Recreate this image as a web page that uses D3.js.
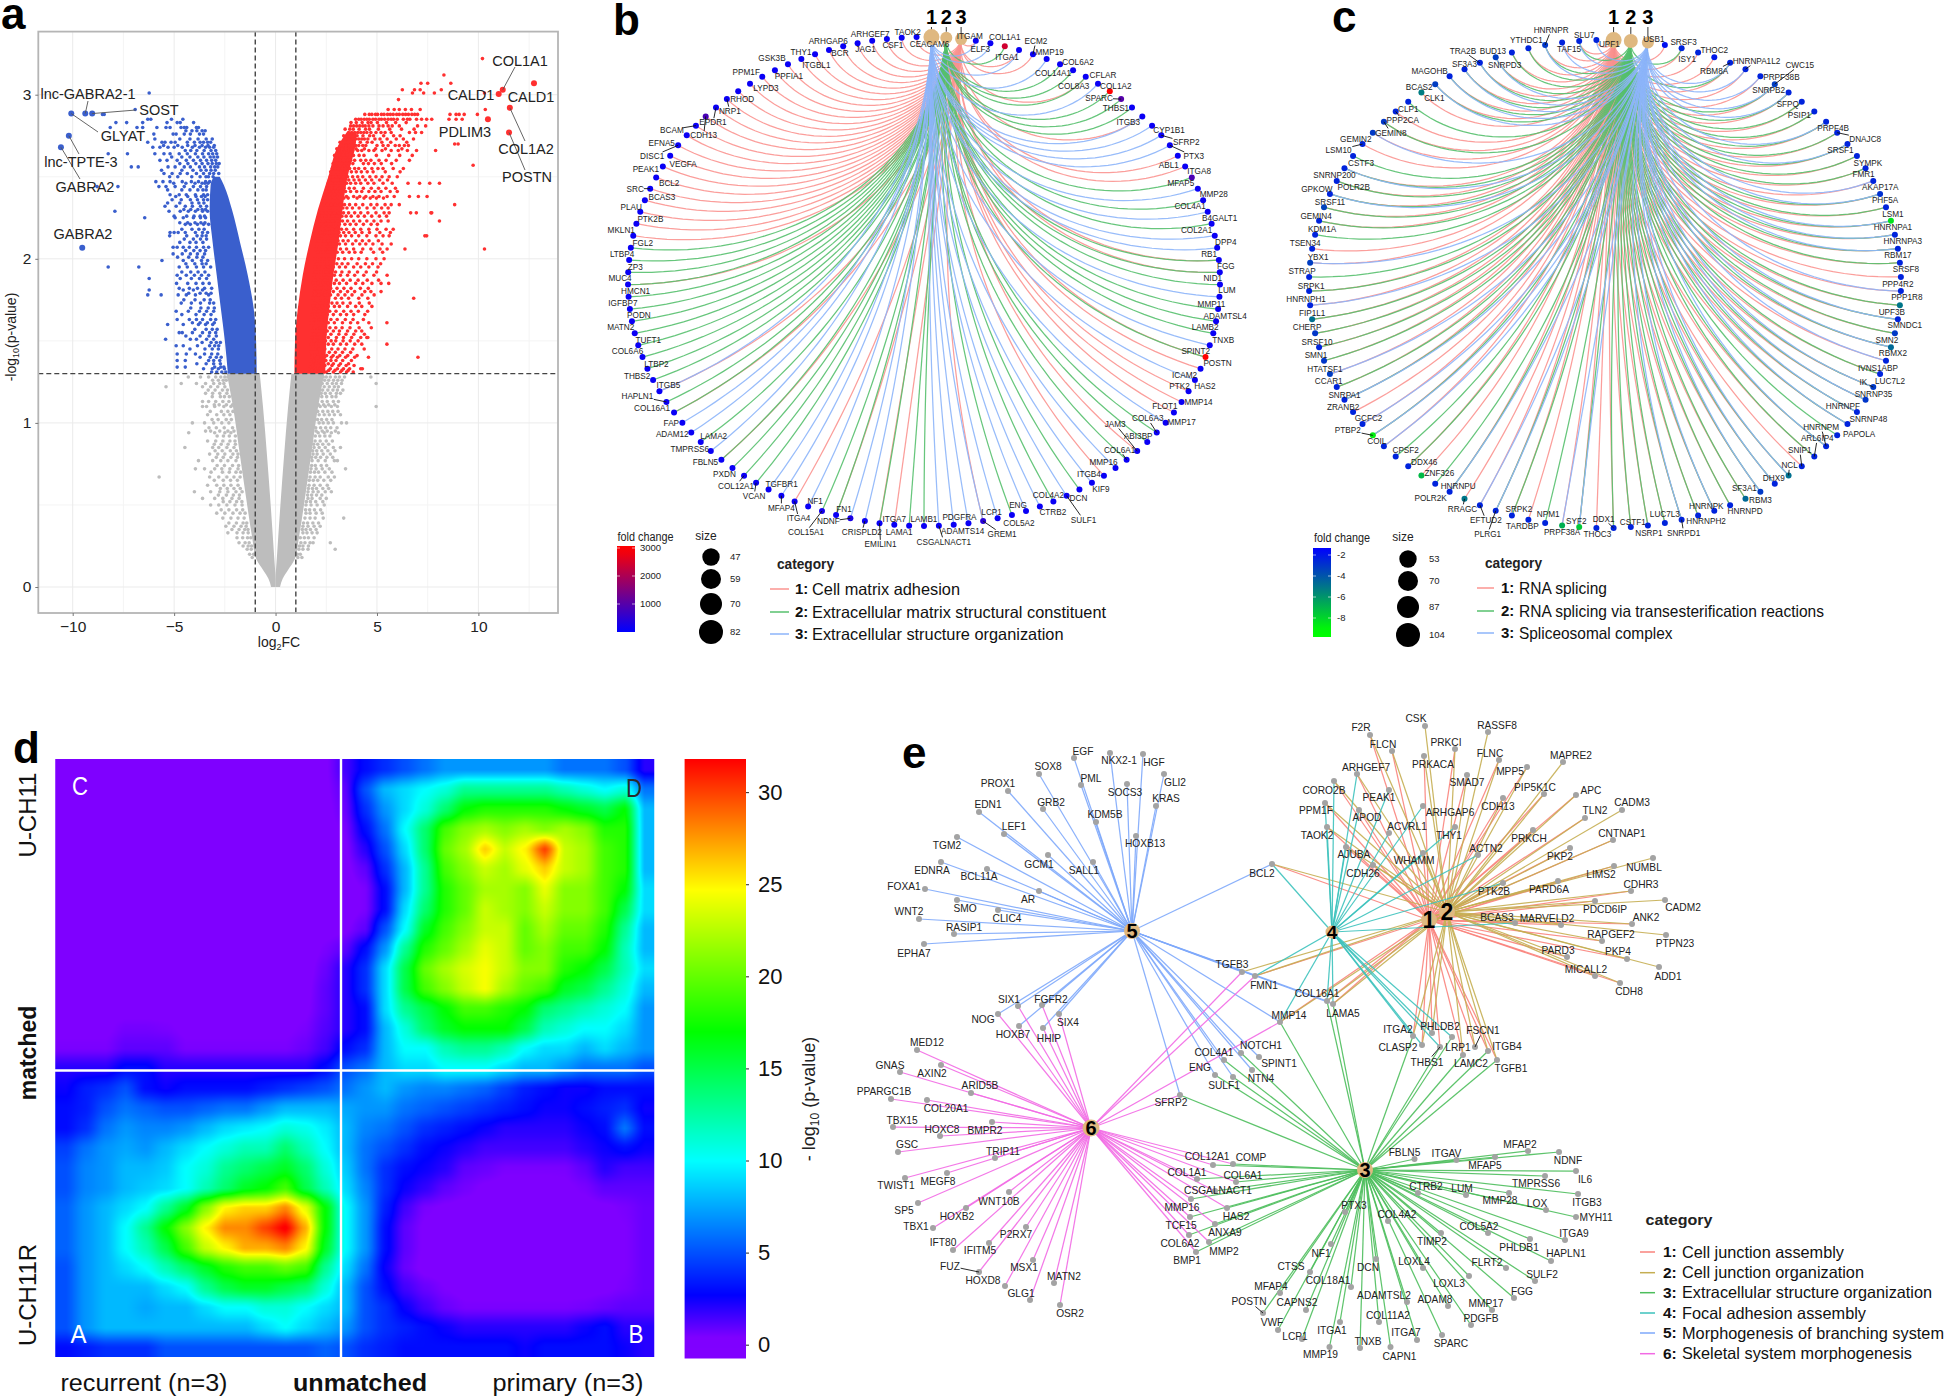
<!DOCTYPE html>
<html><head><meta charset="utf-8">
<script src="https://cdn.jsdelivr.net/npm/d3@7/dist/d3.min.js"></script>
<style>
html,body{margin:0;padding:0;background:#fff}
svg{display:block}
text{font-family:"Liberation Sans",Arial,sans-serif;fill:#222}
</style></head><body>
<svg id="fig" width="1946" height="1399" viewBox="0 0 1946 1399"></svg>
<script>
/* ───────── panel a: volcano values ───────── */
const volcanoXTicks=[-10,-5,0,5,10];
const volcanoYTicks=[0,1,2,3];
const volcanoGridMinorX=[-7.5,-2.5,2.5,7.5,12.5];
const volcanoGridMinorY=[.5,1.5,2.5];
const pCut=1.3, fcCut=1;
const redMassLevels=[1.3,1.5,1.7,1.9,2.1,2.3,2.5,2.7,2.77];
const redMassInner=[.93,.96,1.1,1.34,1.68,2.09,2.6,3.13,3.5];
const redMassOuter=[2.45,2.5,2.65,2.85,3.1,3.3,3.55,3.95,4.0];
const blueMassLevels=[1.3,1.5,1.7,1.9,2.1,2.3,2.45,2.5];
const blueMassInner=[-.93,-.96,-1.08,-1.37,-1.75,-2.15,-2.55,-2.75];
const blueMassOuter=[-2.35,-2.5,-2.7,-2.9,-3.1,-3.25,-3.2,-3.05];
const grayMassLevels=[0,.05,.1,.17,.3,.5,.8,1.1,1.3];
const grayMassOuter=[.22,.35,.6,.95,1.15,1.4,1.75,2.1,2.4];
const grayMassInner=[0,0,.02,.06,.13,.24,.42,.62,.78];
const redRows=[
[3.22,[10.2]],[3.12,[8.3]],[3.07,[7.17,7.5,8.64]],[3.03,[6.25,6.85,7.13,8.17]],[3.01,[6.75,7.3,7.83,10.3]],[2.97,[6.06]],
[2.91,[5.55,5.85,6.1,6.4,6.7,7.13,10.34]],
[2.88,[4.4,4.62,4.75,4.93,5.03,5.22,5.35,5.52,5.66,5.8,5.97,6.1,6.27,6.41,6.55,6.72,6.86,7.0,8.6,8.9,9.05,9.3,9.95]],
[2.85,[3.95,4.1,4.22,4.37,4.5,4.62,4.8,4.93,5.1,5.22,5.38,5.55,5.7,5.82,6.0,6.3,6.5,6.62,6.95,7.2,7.45,7.7,8.55,8.9,9.2]],
[2.81,[3.7,3.85,4.0,4.15,4.3,4.42,4.6,4.8,5.1,5.3,5.55,5.75,6.1,7.0,7.4]],
[2.77,[3.6,3.75,3.9,4.05,4.2,4.35,4.5,4.7,4.95,5.2,5.4,5.7,6.6,6.9,7.2]],
[2.73,[3.5,3.62,3.8,3.95,4.1,4.25,4.38,4.55,4.9,5.15,5.5,5.95,6.3,6.8]],
[2.7,[8.83,9.0]],
[2.69,[3.2,3.35,3.5,3.65,3.8,3.95,4.1,4.3,4.45,5.0,5.3,5.55,5.9,6.1,6.35,6.55]],
[2.66,[3.1,3.25,3.4,3.6,3.8,4.05,4.25,4.6,4.85,5.25,5.7,6.05,6.5,6.95,7.89]],
[2.6,[2.95,3.05,3.2,3.35,3.55,3.7,3.9,4.2,4.45,4.7,5.1,5.45,5.95,6.6]],
[2.57,[9.74]],
[2.55,[2.8,2.95,3.1,3.3,3.45,3.65,3.9,4.1,4.4,4.75,5.05,5.3,5.8,6.3]],
[2.5,[2.7,2.85,3.0,3.15,3.35,3.55,3.8,4.05,4.3,4.65,4.95,5.25,5.6,6.0]],
[2.46,[2.6,2.75,2.95,3.1,3.3,3.5,3.7,3.95,4.2,4.55,4.85,5.3,5.75,6.53,7.1,7.6,8.08]],
[2.41,[2.5,2.65,2.85,3.0,3.2,3.45,3.7,4.0,4.25,4.6,4.9,5.2,5.65,6.0]],
[2.38,[2.45,2.6,2.8,3.05,3.25,3.5,3.85,4.15,4.45,4.8,5.1,5.5,5.85,6.6,7.04,7.47]],
[2.33,[2.35,2.55,2.75,2.95,3.2,3.4,3.65,3.95,4.3,4.7,5.0,5.4,5.7,6.1,8.83]],
[2.28,[2.3,2.5,2.7,2.9,3.1,3.35,3.6,3.9,4.2,4.55,4.95,5.35,5.6,6.66,6.94,7.66,7.7]],
[2.23,[2.2,2.4,2.6,2.85,3.05,3.3,3.55,3.85,4.15,4.5,4.85,5.2,5.55,8.08]],
[2.18,[2.15,2.35,2.6,2.8,3.0,3.25,3.5,3.85,4.2,4.6,5.0,5.45,5.8]],
[2.14,[2.1,2.3,2.55,2.75,3.0,3.2,3.45,3.75,4.1,4.5,4.95,5.3,5.6,7.36,7.45]],
[2.09,[2.05,2.25,2.5,2.7,2.95,3.15,3.45,3.8,4.15,4.45,4.8,5.25,5.7]],
[2.06,[2.0,2.2,2.45,2.7,2.9,3.2,3.5,3.85,4.3,4.7,5.15,5.5,6.38,10.3]],
[2.0,[1.95,2.2,2.4,2.65,2.85,3.1,3.4,3.75,4.1,4.5,4.95,5.35]],
[1.95,[1.95,2.15,2.4,2.6,2.85,3.15,3.45,3.85,4.2,4.6,5.05]],
[1.9,[1.9,2.15,2.4,2.65,2.9,3.2,3.55,3.9,4.35,4.85,5.5]],
[1.85,[1.85,2.1,2.35,2.6,2.9,3.15,3.5,3.95,4.3,4.75,5.2,5.58]],
[1.8,[1.9,2.1,2.3,2.6,2.85,3.2,3.55,3.9,4.4,4.7,5.2]],
[1.76,[1.85,2.1,2.35,2.6,2.95,3.25,3.6,4.1,4.55,6.81]],
[1.71,[1.85,2.05,2.3,2.6,2.9,3.15,3.55,3.95,4.25,4.75]],
[1.66,[1.8,2.05,2.3,2.55,2.85,3.2,3.5,3.85,4.4]],
[1.61,[1.75,2.0,2.3,2.6,2.9,3.3,3.7,4.05,4.6,5.49]],
[1.56,[1.8,2.05,2.3,2.55,2.85,3.15,3.55,3.95,4.25]],
[1.52,[1.8,2.05,2.35,2.6,3.0,3.35,3.75,4.2,4.5,4.55]],
[1.48,[1.75,2.0,2.3,2.6,2.85,3.2,3.5,3.9,4.25,5.49]],
[1.43,[1.75,2.05,2.35,2.65,2.95,3.3,3.7]],
[1.4,[1.8,2.1,2.4,2.75,3.05,3.45,3.9,4.58,7.02]],
[1.36,[1.75,2.0,2.3,2.6,2.85,3.2,3.6]],
[1.33,[1.7,2.05,2.35,2.7,3.05,3.35,3.65,4.2,4.28]],
[1.31,[1.8,2.15,2.5,2.85,3.2,3.5,3.83]],
[2.83,[3.72,3.98,4.27,4.56,4.71,5.02,5.47,5.92,6.44]],
[2.79,[3.43,3.66,3.83,4.12,4.44,4.63,5.07,5.63,6.21,6.83]],
[2.75,[3.36,3.57,3.71,4.02,4.31,4.64,4.83,5.33,5.82,6.14]],
[2.71,[3.18,3.44,3.73,3.87,4.18,4.52,4.76,5.24,5.68,6.47]],
[2.67,[3.02,3.28,3.47,3.72,3.97,4.38,4.93,5.42,6.23]],
[2.63,[2.91,3.14,3.33,3.52,3.84,4.12,4.36,4.97,5.58,6.12,6.74]],
[2.58,[2.84,3.01,3.27,3.48,3.62,3.81,4.33,4.58,4.87,5.21,5.72]],
[2.53,[2.72,2.92,3.22,3.41,3.74,3.98,4.23,4.52,4.81,5.41,6.14]],
[2.48,[2.66,2.83,3.07,3.24,3.61,3.87,4.12,4.43,4.74,5.13,5.52]],
[2.43,[2.56,2.78,2.92,3.16,3.38,3.63,3.88,4.33,4.72,5.08,5.44,5.91]],
[2.37,[2.42,2.69,2.91,3.13,3.37,3.58,4.02,4.36,4.67,4.97,5.32]],
[2.31,[2.38,2.62,2.83,3.07,3.32,3.52,3.79,4.12,4.51,4.86,5.23,5.55]],
[2.26,[2.28,2.46,2.63,2.81,3.03,3.27,3.48,3.73,4.07,4.38,4.74,5.12,5.47]],
[2.21,[2.24,2.47,2.72,2.97,3.14,3.42,3.68,3.97,4.33,4.71,5.02]],
[2.16,[2.22,2.43,2.66,2.88,3.13,3.36,3.62,3.93,4.26,4.63,5.14,5.66]],
[2.11,[2.12,2.38,2.61,2.83,3.08,3.33,3.58,3.96,4.28,4.61,5.07]],
[2.04,[2.07,2.33,2.57,2.79,3.04,3.31,3.63,3.91,4.22,4.83,5.28]],
[1.97,[2.03,2.28,2.53,2.76,3.02,3.28,3.57,4.02,4.43,4.78,5.18]],
[1.92,[1.98,2.23,2.47,2.72,2.96,3.27,3.63,4.04,4.47,4.98]],
[1.87,[1.93,2.18,2.42,2.66,2.99,3.33,3.68,4.07,4.52,5.08]],
[1.82,[1.96,2.24,2.48,2.72,3.03,3.37,3.72,4.18,4.57]],
[1.78,[1.92,2.16,2.42,2.71,3.08,3.42,3.77,4.26,4.86]],
[1.73,[1.96,2.22,2.48,2.78,3.03,3.32,3.68,4.13,4.62]],
[1.68,[1.88,2.12,2.37,2.67,2.98,3.36,3.72,4.08,4.54]],
[1.63,[1.89,2.14,2.41,2.73,3.04,3.44,3.82,4.33]],
[1.58,[1.92,2.17,2.44,2.68,2.97,3.28,3.67,4.12,4.72]],
[1.54,[1.88,2.12,2.42,2.73,3.12,3.47,3.86,4.38]],
[1.5,[1.92,2.17,2.46,2.74,2.97,3.33,3.68,4.07]],
[1.45,[1.84,2.13,2.43,2.77,3.08,3.42,3.81,4.37]],
[1.41,[1.92,2.23,2.52,2.84,3.17,3.56,4.02]],
[1.38,[1.88,2.17,2.48,2.73,2.98,3.31,3.74]],
[1.35,[1.83,2.12,2.43,2.78,3.12,3.48,3.87]],
[1.32,[1.78,1.97,2.27,2.62,2.93,3.27,3.58]]
];
const blueRows=[
[3.01,[-6.23]],[2.91,[-6.92]],[2.88,[-8.53,-8.45]],[2.85,[-6.3,-6.15,-5.13,-4.57]],
[2.83,[-7.87,-7.34,-6.55,-4.85,-4.04,-4.7,-5.35]],
[2.8,[-8.15,-6.83,-6.55,-5.85,-5.4,-5.2,-4.66,-4.38,-3.9,-3.8,-4.5]],
[2.76,[-6.0,-5.05,-4.9,-4.5,-4.2,-3.75,-3.55]],
[2.71,[-6.3,-5.6,-5.45,-5.15,-4.95,-4.35,-4.0,-3.72,-3.55,-3.35,-3.2]],
[2.68,[-6.05,-5.7,-5.3,-5.0,-4.6,-4.1,-3.75,-3.45,-3.25,-3.05]],
[2.64,[-7.3,-8.25,-5.95,-5.5,-5.2,-4.75,-4.35,-3.95,-3.6,-3.3,-3.1,-2.9]],
[2.6,[-5.7,-5.35,-4.85,-4.4,-4.05,-3.7,-3.4,-3.15,-2.95]],
[2.56,[-7.11,-6.77,-5.3,-4.95,-4.5,-4.2,-3.75,-3.5,-3.2,-3.0,-2.85]],
[2.52,[-5.5,-5.1,-4.7,-4.35,-3.9,-3.55,-3.25,-3.05,-2.8]],
[2.47,[-5.9,-5.55,-5.2,-4.6,-4.15,-3.8,-3.45,-3.25]],
[2.44,[-7.77,-8.8,-5.75,-5.4,-4.95,-4.5,-4.05,-3.7,-3.4]],
[2.39,[-5.2,-4.75,-4.4,-3.95,-3.55,-3.35]],
[2.36,[-5.1,-4.65,-4.2,-3.85,-3.55,-3.35]],
[2.32,[-5.45,-4.9,-4.45,-4.1,-3.7,-3.4]],
[2.29,[-7.92,-5.25,-4.7,-4.3,-3.95,-3.6,-3.35]],
[2.25,[-6.45,-4.95,-4.55,-4.05,-3.7,-3.45]],
[2.21,[-4.45,-4.2,-3.85,-3.55,-3.3]],
[2.16,[-5.2,-5.0,-4.8,-4.45,-3.95,-3.6,-3.35]],
[2.12,[-4.5,-4.05,-3.7,-3.4]],
[2.07,[-5.05,-4.85,-4.55,-4.25,-3.9,-3.55,-3.3]],
[2.03,[-5.05,-4.6,-4.2,-3.85,-3.5]],
[1.99,[-5.6,-4.55,-4.1,-3.65,-3.35]],
[1.95,[-8.25,-6.74,-4.75,-4.35,-3.9,-3.55,-3.2]],
[1.9,[-4.85,-4.4,-4.0,-3.65,-3.3]],
[1.88,[-6.23,-4.7,-4.15,-3.75,-3.4]],
[1.82,[-4.75,-4.25,-3.85,-3.5,-3.15]],
[1.81,[-6.23,-4.55,-4.05,-3.6]],
[1.78,[-6.3,-5.64,-4.8,-4.4,-3.95,-3.3]],
[1.73,[-4.65,-4.15,-3.7,-3.25,-3.05]],
[1.68,[-4.9,-4.3,-3.75,-3.4,-3.05]],
[1.63,[-4.85,-4.25,-3.9,-3.6,-3.2,-2.95]],
[1.6,[-5.32,-4.55,-3.8,-3.45,-3.1]],
[1.55,[-4.75,-4.6,-4.1,-3.6,-3.25,-2.95]],
[1.51,[-5.42,-4.2,-3.9,-3.4,-3.05]],
[1.47,[-4.9,-4.55,-3.85,-3.25,-3.0,-2.8]],
[1.42,[-4.85,-4.4,-3.95,-3.5,-3.15,-2.85]],
[1.38,[-4.85,-4.45,-3.3,-3.05,-2.75]],
[1.34,[-4.85,-4.45,-3.0,-2.7,-2.55]],
[1.31,[-3.15,-2.9,-2.65,-2.45]],
[2.78,[-4.42,-4.12,-3.88,-3.62,-3.47]],[2.73,[-5.95,-4.72,-4.22,-3.82,-3.42,-3.12]],[2.69,[-5.52,-4.82,-4.33,-3.97,-3.62,-3.33,-3.02]],[2.66,[-4.45,-4.18,-3.88,-3.52,-3.18,-2.95]],[2.62,[-5.12,-4.62,-4.22,-3.83,-3.53,-3.22,-3.04,-2.86]],[2.58,[-4.72,-4.32,-3.93,-3.62,-3.33,-3.12,-2.92,-2.78]],[2.54,[-5.62,-4.62,-4.07,-3.68,-3.42,-3.18,-2.97]],[2.5,[-5.22,-4.82,-4.13,-3.72,-3.43,-3.31,-3.08]],[2.46,[-5.02,-4.42,-3.97,-3.62,-3.48,-3.33]],[2.42,[-5.32,-4.62,-4.22,-3.83,-3.58,-3.42]],[2.38,[-4.92,-4.33,-3.92,-3.65,-3.47]],[2.34,[-5.32,-4.72,-4.12,-3.78,-3.53]],[2.3,[-4.52,-4.18,-3.83,-3.62,-3.45]],[2.26,[-5.0,-4.38,-4.02,-3.72,-3.5]],[2.22,[-4.72,-4.33,-3.97,-3.68,-3.48]],[2.18,[-4.62,-4.12,-3.78,-3.52]],[2.14,[-5.22,-4.38,-3.87,-3.62,-3.42]],[2.1,[-4.72,-4.22,-3.92,-3.58]],[2.05,[-4.43,-4.03,-3.72,-3.45]],[2.01,[-4.83,-4.28,-3.88,-3.58]],[1.97,[-4.42,-3.98,-3.62,-3.42]],[1.92,[-4.62,-4.18,-3.82,-3.48]],[1.85,[-4.88,-4.33,-3.92,-3.58,-3.27]],[1.79,[-4.28,-3.72,-3.42,-3.18]],[1.75,[-4.52,-3.97,-3.52,-3.22]],[1.7,[-4.18,-3.68,-3.32,-3.02]],[1.66,[-4.62,-3.92,-3.52,-3.18]],[1.61,[-4.1,-3.72,-3.36,-3.02]],[1.57,[-3.98,-3.42,-3.12,-2.88]],[1.53,[-4.42,-3.72,-3.28,-2.92]],[1.49,[-3.62,-3.18,-2.92,-2.72]],[1.45,[-4.22,-3.48,-3.12,-2.82]],[1.4,[-3.72,-3.22,-2.92,-2.68]],[1.36,[-3.88,-3.42,-3.05,-2.72]],[1.33,[-3.55,-3.12,-2.82,-2.52]]
];
const grayRows=[
[1.28,[-4.3,-3.7,-3.3,-2.95,-2.7,-2.5,-2.35,2.35,2.5,2.7,2.95,3.15,3.4,4.7]],
[1.24,[-4.65,-3.9,-3.45,-3.05,-2.75,-2.55,2.3,2.55,2.8,3.0,3.25,4.96]],
[1.22,[-5.4,-3.6,-3.2,-2.85,-2.5,2.4,2.65,2.9,3.1]],
[1.18,[-3.45,-3.1,-2.75,-2.4,2.25,2.45,2.7,3.0,3.2]],
[1.13,[-3.6,-3.3,-2.95,-2.6,-2.3,2.3,2.55,2.85,3.1]],
[1.1,[-3.6,-3.4,-3.0,-2.55,-2.2,2.2,2.45,2.75,3.05,4.96]],
[1.05,[-3.35,-2.9,-2.55,-2.25,2.15,2.4,2.65,2.9,3.2]],
[1.0,[-4.1,-3.5,-3.05,-2.65,-2.3,2.15,2.35,2.6,2.85,3.25,3.5]],
[.95,[-3.45,-3.2,-2.75,-2.35,-2.05,2.0,2.3,2.55,2.95]],
[.94,[-4.28,-3.0,-2.5,-2.2,2.1,2.4,2.75,3.1]],
[.89,[-3.35,-2.95,-2.6,-2.25,-2.0,1.95,2.2,2.5,2.8]],
[.85,[-4.47,-3.1,-2.8,-2.4,-2.05,1.9,2.15,2.45,2.85,3.2]],
[.81,[-3.25,-2.85,-2.5,-2.1,-1.85,1.85,2.05,2.35,2.7]],
[.77,[-3.8,-3.1,-2.7,-2.35,-1.95,1.8,2.1,2.45,2.9,3.05]],
[.72,[-3.95,-3.5,-3.0,-2.65,-2.25,-1.85,1.75,2.0,2.3,2.65,3.45]],
[.67,[-5.74,-3.25,-2.8,-2.4,-2.05,-1.75,1.7,1.95,2.2,2.6,2.9]],
[.62,[-3.35,-2.9,-2.55,-2.2,-1.85,1.65,1.9,2.2,2.55]],
[.58,[-4.0,-3.2,-2.75,-2.35,-1.95,-1.65,1.6,1.85,2.1,2.45,2.75]],
[.54,[-3.6,-3.0,-2.6,-2.15,-1.8,1.6,1.8,2.2,2.5]],
[.5,[-3.2,-2.8,-2.4,-2.0,-1.65,1.5,1.75,2.05,2.4]],
[.45,[-2.9,-2.5,-2.1,-1.75,-1.5,1.5,1.7,2.0,2.3]],
[.42,[-2.6,-2.2,-1.85,-1.55,1.45,1.7,1.95,2.35,3.36]],
[.37,[-2.45,-2.05,-1.7,-1.45,1.35,1.6,1.9,2.2]],
[.33,[-2.35,-1.9,-1.6,-1.35,1.35,1.55,1.8,2.05]],
[.27,[-1.8,-1.5,-1.3,1.25,1.45,1.7,1.85,2.7]],
[.23,[-1.4,-1.2,1.15,1.35,1.6,2.94]],
[.18,[-1.15,1.1,1.3]],
[1.26,[-3.1,-2.82,-2.58,-2.43,2.42,2.62,2.86,3.07,3.28]],[1.2,[-3.32,-2.98,-2.62,-2.37,2.32,2.58,2.83,3.05,3.32]],[1.16,[-3.12,-2.72,-2.52,-2.28,2.28,2.52,2.78,2.98]],[1.11,[-3.02,-2.78,-2.42,-2.12,2.12,2.37,2.62,2.92]],[1.07,[-3.22,-2.67,-2.35,-2.1,2.08,2.33,2.58,2.82,3.08]],[1.02,[-3.13,-2.83,-2.43,-2.18,2.07,2.27,2.52,2.78]],[.97,[-3.28,-2.92,-2.53,-2.12,1.98,2.22,2.47,2.72,3.03]],[.92,[-2.88,-2.57,-2.28,-1.98,1.96,2.18,2.43,2.68]],[.87,[-3.02,-2.68,-2.34,-1.98,1.88,2.08,2.33,2.62]],[.83,[-2.98,-2.63,-2.23,-1.93,1.83,2.03,2.28,2.58,2.93]],[.79,[-2.92,-2.58,-2.2,-1.88,1.78,1.98,2.22,2.53,2.82]],[.74,[-2.88,-2.52,-2.12,-1.82,1.78,1.96,2.25,2.52]],[.7,[-3.18,-2.62,-2.28,-1.95,-1.72,1.72,1.92,2.12,2.43,2.78]],[.65,[-3.02,-2.58,-2.22,-1.88,1.66,1.86,2.08,2.38,2.72]],[.6,[-2.72,-2.38,-2.05,-1.74,1.62,1.82,2.02,2.33,2.62]],[.56,[-2.82,-2.42,-2.08,-1.78,1.58,1.78,2.02,2.28]],[.52,[-2.58,-2.25,-1.92,-1.66,1.52,1.72,1.98,2.33]],[.47,[-2.68,-2.3,-1.92,-1.62,1.48,1.68,1.92,2.22]],[.39,[-2.3,-1.93,-1.6,-1.42,1.38,1.58,1.84,2.12]],[.35,[-2.15,-1.8,-1.52,-1.36,1.32,1.5,1.72,2.0]],[.3,[-1.9,-1.62,-1.38,-1.22,1.22,1.42,1.62,1.9]],[.25,[-1.6,-1.35,-1.18,1.18,1.35,1.62]],[.2,[-1.28,-1.08,1.08,1.22]]
];
const labeledBlue=[[-10.07,2.885],[-9.38,2.885],[-9.04,2.885],[-10.19,2.75],[-10.58,2.68],[-9.53,2.067]];
const labeledRed=[[12.74,3.07],[11.2,3.03],[11.0,3.005],[11.55,2.92],[10.47,2.85],[11.51,2.77]];
const volcanoLabels=["COL1A1","CALD1","CALD1","PDLIM3","COL1A2","POSTN","lnc-GABRA2-1","SOST","GLYAT","lnc-TPTE-3","GABRA2","GABRA2"];
const volcanoLabelAt=[[520,61],[471,95],[531,97],[465,132],[526,149],[527,177],[88,94],[159,110],[123,135.5],[81,162],[85,187],[83,234]];
const volcanoConnect=[[[11.2,3.03],[515,67]],[[11.55,2.92],[525,141]],[[11.51,2.77],[525,170]],[[-9.38,2.885],[88,101]],[[-9.04,2.885],[136,110]],[[-10.07,2.885],[98,132]],[[-10.19,2.75],[79,154]],[[-10.58,2.68],[80,179]]];

/* ───────── panel b ───────── */
const categoriesB=["Cell matrix adhesion","Extracellular matrix structural constituent","Extracellular structure organization"];
const genesB=[["ITGAM","13"],["ELF3","3"],["COL1A1","2"],["ITGA1","13"],["ECM2","1"],["MMP19","3"],["COL6A2","2"],["COL14A1","2"],["COL8A3","12"],["CFLAR","3"],["COL1A2","2"],["SPARC","2"],["THBS1","2"],["ITGB3","13"],["CYP1B1","3"],["SFRP2","3"],["PTX3","3"],["ABL1","1"],["ITGA8","1"],["MFAP5","2"],["MMP28","3"],["COL4A1","2"],["B4GALT1","3"],["COL2A1","2"],["DPP4","3"],["RB1","3"],["FGG","12"],["NID1","12"],["LUM","2"],["MMP11","3"],["ADAMTSL4","2"],["LAMB2","2"],["TNXB","2"],["SPINT2","3"],["POSTN","12"],["ICAM2","1"],["HAS2","3"],["PTK2","1"],["MMP14","1"],["FLOT1","1"],["MMP17","3"],["COL6A3","2"],["ABI3BP","2"],["JAM3","1"],["COL6A1","2"],["MMP16","3"],["ITGB4","1"],["KIF9","3"],["DCN","2"],["SULF1","3"],["COL4A2","2"],["CTRB2","3"],["ENG","3"],["COL5A2","2"],["LCP1","3"],["GREM1","13"],["PDGFRA","3"],["ADAMTS14","3"],["CSGALNACT1","3"],["LAMB1","2"],["LAMA1","2"],["ITGA7","1"],["EMILIN1","12"],["CRISPLD2","3"],["NDNF","3"],["FN1","12"],["COL15A1","2"],["NF1","3"],["ITGA4","1"],["MFAP4","3"],["TGFBR1","3"],["VCAN","2"],["COL12A1","2"],["PXDN","2"],["FBLN5","12"],["TMPRSS6","3"],["LAMA2","2"],["ADAM12","3"],["FAP","3"],["COL16A1","12"],["HAPLN1","2"],["ITGB5","13"],["THBS2","2"],["LTBP2","2"],["COL6A6","2"],["TUFT1","2"],["MATN2","2"],["PODN","2"],["IGFBP7","2"],["HMCN1","2"],["MUC4","12"],["ZP3","2"],["LTBP4","2"],["FGL2","2"],["MKLN1","1"],["PTK2B","1"],["PLAU","1"],["BCAS3","1"],["SRC","1"],["BCL2","1"],["PEAK1","1"],["VEGFA","1"],["DISC1","1"],["EFNA5","1"],["BCAM","1"],["CDH13","1"],["EPDR1","1"],["NRP1","1"],["RHOD","1"],["LYPD3","1"],["PPM1F","1"],["PPFIA1","1"],["GSK3B","1"],["ITGBL1","1"],["THY1","1"],["BCR","1"],["ARHGAP6","1"],["JAG1","1"],["ARHGEF7","1"],["CSF1","1"],["TAOK2","1"],["CEACAM6","1"]];
const foldDefaultB=120;
const foldB={COL1A1:2450,COL1A2:3000,POSTN:3000,SPARC:1000,MFAP5:900,CDH13:850,GREM1:450,NDNF:300,COL15A1:250};
const foldTicksB=[1000,2000,3000];
const sizeLegendB=[47,59,70,82];
const nudgeB={ITGAM:[-6,-5],ELF3:[-10,6],COL1A1:[0,-9],ITGA1:[-12,7],ECM2:[3,-13],MMP19:[3,-7],COL6A2:[18,-2],COL14A1:[-20,3],COL8A3:[-12,9],CFLAR:[5,-9],COL1A2:[6,-5],SPARC:[-22,-1],THBS1:[-16,1],ITGB3:[-14,6],CYP1B1:[17,4],SFRP2:[25,7],PTX3:[24,11],ABL1:[-9,9],ITGA8:[14,5],MFAP5:[-11,6],MMP28:[16,5],COL4A1:[-13,6],B4GALT1:[12,6],COL2A1:[-15,6],DPP4:[11,6],RB1:[-8,6],FGG:[7,6],NID1:[-7,6],LUM:[7,6],MMP11:[-8,7],ADAMTSL4:[7,7],LAMB2:[-11,6],TNXB:[10,7],SPINT2:[-14,6],POSTN:[12,6],ICAM2:[-16,6],HAS2:[10,6],PTK2:[-9,-5],MMP14:[17,0],FLOT1:[-9,-6],MMP17:[16,-1],COL6A3:[-9,-14],ABI3BP:[-9,-6],JAM3:[-22,-27],COL6A1:[-7,-10],MMP16:[-12,-6],ITGB4:[-15,-2],KIF9:[9,6],DCN:[-1,9],SULF1:[17,24],COL4A2:[-5,-6],CTRB2:[13,6],ENG:[-8,-6],COL5A2:[7,8],LCP1:[-6,-6],GREM1:[19,13],PDGFRA:[-9,-6],ADAMTS14:[9,6],CSGALNACT1:[5,16],LAMB1:[0,-7],LAMA1:[-10,6],ITGA7:[0,-6],EMILIN1:[1,21],CRISPLD2:[-3,11],NDNF:[-22,3],FN1:[8,-6],COL15A1:[-16,21],NF1:[7,-5],ITGA4:[4,17],MFAP4:[0,12],TGFBR1:[13,-5],VCAN:[-2,13],COL12A1:[-8,10],PXDN:[-8,6],FBLN5:[-16,2],TMPRSS6:[-21,-2],LAMA2:[13,-6],ADAM12:[-19,2],FAP:[-11,0],COL16A1:[-22,-4],HAPLN1:[-29,-6],ITGB5:[9,-6],THBS2:[-16,-4],LTBP2:[9,-5],COL6A6:[-15,-6],TUFT1:[10,-5],MATN2:[-14,-6],PODN:[7,-6],IGFBP7:[-7,-6],HMCN1:[7,-6],MUC4:[-8,-6],ZP3:[7,-5],LTBP4:[-7,-6],FGL2:[12,-5],MKLN1:[-12,-6],PTK2B:[14,-5],PLAU:[-9,-5],BCAS3:[17,-3],SRC:[-15,0],BCL2:[13,6],PEAK1:[-17,3],VEGFA:[13,8],DISC1:[-26,11],EFNA5:[-25,8],BCAM:[-24,4],CDH13:[-2,19],EPDR1:[-3,15],NRP1:[3,12],RHOD:[4,8],LYPD3:[16,4],PPM1F:[-16,-5],PPFIA1:[14,6],GSK3B:[-16,-6],ITGBL1:[15,6],THY1:[-14,-2],BCR:[11,3],ARHGAP6:[-15,-5],JAG1:[8,6],ARHGEF7:[-2,-7],CSF1:[6,6],TAOK2:[6,-6],CEACAM6:[13,7]};
const leadersB=["ECM2","SPARC","SFRP2","PTX3","COL6A3","JAM3","COL6A1","SULF1","GREM1","CSGALNACT1","EMILIN1","CRISPLD2","NDNF","COL15A1","ITGA4","MFAP4","VCAN","COL12A1","HAPLN1","SRC","DISC1","BCAM","CDH13","EPDR1","NRP1"];

/* ───────── panel c ───────── */
const categoriesC=["RNA splicing","RNA splicing via transesterification reactions","Spliceosomal complex"];
const genesC=[["USB1","1"],["SRSF3","12"],["ISY1","1"],["THOC2","1"],["RBM8A","123"],["HNRNPA1L2","13"],["PRPF38B","13"],["CWC15","123"],["SNRPB2","123"],["SFPQ","12"],["PSIP1","12"],["PRPF4B","123"],["DNAJC8","12"],["SRSF1","123"],["SYMPK","12"],["FMR1","12"],["AKAP17A","13"],["PHF5A","123"],["LSM1","12"],["HNRNPA1","123"],["HNRNPA3","123"],["RBM17","123"],["SRSF8","12"],["PPP4R2","1"],["PPP1R8","13"],["UPF3B","12"],["SMNDC1","123"],["SMN2","12"],["RBMX2","123"],["IVNS1ABP","13"],["LUC7L2","12"],["IK","123"],["SNRNP35","123"],["HNRNPF","123"],["SNRNP48","123"],["PAPOLA","2"],["HNRNPM","123"],["ARL6IP4","12"],["SNIP1","1"],["NCL","123"],["DHX9","123"],["SF3A1","123"],["RBM3","12"],["HNRNPD","12"],["HNRNPK","123"],["HNRNPH2","12"],["SNRPD1","123"],["LUC7L3","12"],["NSRP1","12"],["CSTF1","12"],["DDX1","12"],["THOC3","1"],["SYF2","123"],["PRPF38A","13"],["NPM1","2"],["TARDBP","1"],["SRPK2","12"],["PLRG1","123"],["EFTUD2","13"],["RRAGC","1"],["POLR2K","123"],["HNRNPU","2"],["ZNF326","1"],["DDX46","12"],["CPSF2","2"],["COIL","13"],["PTBP2","123"],["GCFC2","13"],["ZRANB2","1"],["SNRPA1","123"],["CCAR1","12"],["HTATSF1","13"],["SMN1","12"],["SRSF10","12"],["CHERP","12"],["FIP1L1","12"],["HNRNPH1","13"],["SRPK1","12"],["STRAP","2"],["YBX1","13"],["TSEN34","1"],["KDM1A","2"],["GEMIN4","12"],["SRSF11","12"],["GPKOW","123"],["POLR2B","12"],["SNRNP200","123"],["CSTF3","2"],["LSM10","1"],["GEMIN2","13"],["GEMIN8","12"],["PPP2CA","1"],["CLP1","2"],["CLK1","1"],["BCAS2","123"],["MAGOHB","123"],["SF3A3","123"],["TRA2B","123"],["SNRPD3","123"],["BUD13","12"],["YTHDC1","12"],["HNRNPR","123"],["TAF15","13"],["SLU7","123"],["UPF1","13"]];
const foldDefaultC=-2.6;
const foldC={HNRNPA1:-8.6,PTBP2:-9,SYF2:-7.8,PRPF38A:-7,ZNF326:-7.3,UPF3B:-5.2,RBMX2:-4.8,RRAGC:-5.2,RBM3:-4.8,NCL:-5,CLK1:-5.4,FIP1L1:-5,CWC15:-3.4,SNRPD3:-3.4,BCAS2:-3.4,YBX1:-3.4,SRSF11:-3.6,CHERP:-3.2,SMN2:-3.3,PHF5A:-3,GEMIN2:-3.3,GEMIN8:-3.2,HTATSF1:-3.4,SMN1:-3.2,IK:-3.3,SNRNP35:-3.2,SF3A1:-3.3,THOC2:-2.2,USB1:-2,HNRNPR:-3.2};
const foldTicksC=[-2,-4,-6,-8];
const sizeLegendC=[53,70,87,104];
const nudgeC={USB1:[-11,-6],SRSF3:[2,-6],ISY1:[-11,7],THOC2:[0,-7],RBM8A:[-16,8],HNRNPA1L2:[11,-8],PRPF38B:[21,1],CWC15:[25,-19],SNRPB2:[-20,-2],SFPQ:[-14,2],PSIP1:[-15,4],PRPF4B:[7,6],DNAJC8:[28,6],SRSF1:[-7,6],SYMPK:[11,7],FMR1:[-2,6],AKAP17A:[7,6],PHF5A:[5,6],LSM1:[7,7],HNRNPA1:[2,6],HNRNPA3:[8,6],RBM17:[0,6],SRSF8:[6,6],PPP4R2:[-3,7],PPP1R8:[6,6],UPF3B:[-8,7],SMNDC1:[7,6],SMN2:[-8,7],RBMX2:[2,6],IVNS1ABP:[-8,7],LUC7L2:[10,7],IK:[-10,-5],SNRNP35:[8,-6],HNRNPF:[-14,-6],SNRNP48:[21,-5],PAPOLA:[22,-1],HNRNPM:[-5,-19],ARL6IP4:[3,-18],SNIP1:[-2,-16],NCL:[1,-10],DHX9:[-1,-6],SF3A1:[-16,-4],RBM3:[15,1],HNRNPD:[15,6],HNRNPK:[-8,-5],HNRNPH2:[8,6],SNRPD1:[2,13],LUC7L3:[0,-9],NSRP1:[1,8],CSTF1:[2,-5],DDX1:[-10,-9],THOC3:[1,6],SYF2:[-3,-6],PRPF38A:[0,7],NPM1:[3,-9],TARDBP:[-6,6],SRPK2:[7,-6],PLRG1:[-8,23],EFTUD2:[6,15],RRAGC:[-2,10],POLR2K:[-19,6],HNRNPU:[23,2],ZNF326:[18,-2],DDX46:[16,-4],CPSF2:[10,-6],COIL:[-7,-5],PTBP2:[-25,-5],GCFC2:[6,-6],ZRANB2:[-10,-5],SNRPA1:[0,-5],CCAR1:[-8,-6],HTATSF1:[-5,-5],SMN1:[-8,-6],SRSF10:[-2,-5],CHERP:[-8,-6],FIP1L1:[0,-6],HNRNPH1:[-4,-6],SRPK1:[2,-5],STRAP:[-7,-6],YBX1:[8,-6],TSEN34:[-7,-6],KDM1A:[7,-6],GEMIN4:[-3,-5],SRSF11:[6,-5],GPKOW:[-13,-5],POLR2B:[17,6],SNRNP200:[-10,7],CSTF3:[8,7],LSM10:[-24,6],GEMIN2:[-17,6],GEMIN8:[7,11],PPP2CA:[7,9],CLP1:[0,7],CLK1:[13,6],BCAS2:[-16,3],MAGOHB:[-20,-5],SF3A3:[0,-5],TRA2B:[-17,-12],SNRPD3:[9,8],BUD13:[-19,-1],YTHDC1:[-2,-8],HNRNPR:[6,-15],TAF15:[7,7],SLU7:[5,-6],UPF1:[13,4]};
const leadersC=["RBM8A","HNRNPA1L2","CWC15","DNAJC8","IK","HNRNPM","ARL6IP4","SNIP1","NCL","SNRPD1","DDX1","PLRG1","EFTUD2","RRAGC","PTBP2","LSM10","GEMIN8","PPP2CA","TRA2B","HNRNPR"];

/* ───────── panel d: rank-rank overlap, -log10 p read cell by cell ───────── */
const heatRowsD=[
[0,0,0,0,0,0,0,0,0,0,0,0,0,.3,1.5,3,4,5,6,7,7,7,7,7,7,6,6,6,5,2],
[0,0,0,0,0,0,0,0,0,0,0,0,0,.3,1,5,8,9,10,11,13,13,13,13,13,12,11,10,11,6],
[0,0,0,0,0,0,0,0,0,0,0,0,0,.2,.8,4,7,9,11,14,17,18,18,18,18,17,16,15,17,8],
[0,0,0,0,0,0,0,0,0,0,0,0,0,.2,.5,3,6,10,14,19,21,22,21,22,21,22,21,18,18,8],
[0,0,0,0,0,0,0,0,0,0,0,0,0,0,.3,2,5,9,14,20,22,26,23,25,30,23,22,19,18,8],
[0,0,0,0,0,0,0,0,0,0,0,0,0,0,.2,1,4,8,13,19,21,23,22,24,26,23,22,19,18,8],
[0,0,0,0,0,0,0,0,0,0,0,0,0,0,0,.5,3,8,13,18,20,22,22,21,24,21,21,19,17,9],
[0,0,0,0,0,0,0,0,0,0,0,0,0,0,0,.5,3,9,14,18,20,23,22,21,23,21,21,19,15,9],
[0,0,0,0,0,0,0,0,0,0,0,0,0,.2,.3,1,5,10,16,19,21,23,23,20,22,20,20,18,13,8],
[0,0,0,0,0,0,0,0,0,0,0,0,0,.5,1,3,7,13,18,20,22,24,23,20,21,19,19,17,12,8],
[0,0,0,0,0,0,0,0,0,0,0,0,.1,.8,2,4,9,15,20,22,23.5,24.5,23,21,21,18,17,15,12,9],
[0,0,0,0,0,0,0,0,0,0,0,0,.2,1,2,4,9,15,19,21,23,24.5,22,20,19,16,15,13,11,8],
[.2,.2,.2,.2,.2,.2,.2,.2,.2,.2,.2,.2,.3,1,2,3,9,13,15,17,19,19,18,17,14,13,12,11,10,7],
[.3,.3,.3,.6,.6,.5,.3,.3,.3,.3,.3,.3,.5,1.2,2,3,8,11,14,16,17,17,17,15,12,11,10,10,9,7],
[.5,.5,.5,1,1,1,.5,.5,.5,.5,.5,.5,.8,1.5,3,4,8,10,10,12,13,13,12,10,9,9,8,9,8,7],
[2,2,2,3,3,2,2,2,2,2,2,2,2,3,5,6,8,9,9,10,10,10,9,8,8,7,6,6,6,5],
[2.5,3.5,4,5,3,2.5,3,3,3,3,3.5,4,4.5,5,6,7,8,7,6.5,6.5,6,5.5,4.5,3.5,3,2.5,2.5,3,3,3],
[3,3.5,5,6,5.5,5,5,5.5,6,6,7,8,8,8,7.5,7,7,6,5.5,5,4.5,4,3.5,3,2.5,2.5,3,3.5,4,2.5],
[3,4,6,7,6.5,6.5,7,8,9,9.5,10,11,10.5,9.5,8,6.5,6,5,4,3.5,3,2.5,2,2,2,2,2.5,3,6,3],
[4.5,6,7,7.5,7,8,9,10,11,12,12,14,12,10,8,6,5,4,3,2.5,2,1.5,1.5,1.5,1.5,1.5,2,2.5,3,2.5],
[5,6.5,7,8,8,8.5,10,11,13,14,15,16,14,11,8.5,6,4,3,2.5,2,1,.8,.5,.5,.5,.5,1,2,1.5,1.5],
[5,6.5,7,8,8.5,9,10,12,14,16,17,19,15,12,9,6.5,4,2.5,1.8,1,.6,.3,.2,.2,.2,.3,.5,1,1,1],
[5.5,7,8,9,10,13,16,21,25,26,26,28,24,17,10,7,3.5,1.5,.5,.3,.2,.2,.2,.2,.2,.2,.2,.3,.5,.8],
[5.5,7,8,10,13,17,21,25,28,28,30,32,27,17,10,7,3,1,.3,.2,.1,.1,.1,.1,.1,.1,.1,.2,.4,.8],
[5.5,7,8,10,12,15,19,23,25,27,27,28,25,16,10,7,3,1,.3,.1,.1,.1,.1,.1,.1,.1,.1,.2,.4,.8],
[5,7,8,9,10,12,14,16,18,19,19,20,19,13,9,6,2.5,.8,.2,.1,.1,.1,.1,.1,.1,.1,.1,.2,.4,.8],
[5,7,8,8,8,9,10,13,15,16,16,15,14,11,8,5,3,1.5,.8,.4,.2,.2,.2,.2,.2,.2,.2,.3,.5,.8],
[5,7,8,8,7.5,8,8,9,10,10,11,11,10,9,8,5,4,2.5,1.5,.8,.5,.5,.5,.5,.5,.5,.6,.8,1,1],
[5,7,8,8,8,8,8,8,8,8,9,10,9,8,7,5,4,3.5,3,2.5,2,2,2,2,2,2,2.5,3,2,2],
[3,3.5,4,4,4,5,5,5,5,5,5,5,5,5.5,5,4,3.5,3,3,3,3,3,3,2.5,3,3,3,3,2.5,2]
];
const heatStopsValue=[-.75,.4,2.7,10,17,24.7,31.8];
const heatStopsColor=["#8000ff","#7f00ff","#0000ff","#00ffff","#00ff00","#ffff00","#ff0000"];
const heatTicks=[0,5,10,15,20,25,30];

/* ───────── panel e: gene network, layout coordinates and memberships ───────── */
const categoriesE=["Cell junction assembly","Cell junction organization","Extracellular structure organization","Focal adhesion assembly","Morphogenesis of branching system","Skeletal system morphogenesis"];
const hubsE=[["1",569,220],["2",587,212],["3",505,470],["4",472,232],["5",272,231],["6",231,428]];
const graphE=[
["EGF","5",214,58],["NKX2-1","5",250,53],["HGF","5",283,54],["SOX8","5",179,74],["PML","5",221,85],["SOCS3","5",267,84],["GLI2","5",304,74],["KRAS","5",296,106],["PROX1","5",148,91],["EDN1","5",119,112],["GRB2","5",183,109],["LEF1","5",144,134],["KDM5B","5",236,122],["HOXB13","5",276,136],["TGM2","5",97,137],["GCM1","5",188,155],["SALL1","5",233,162],["EDNRA","5",81,162],["BCL11A","5",127,169],["FOXA1","5",65,189],["AR","5",179,191],["SMO","5",97,200],["CLIC4","5",138,210],["WNT2","5",59,219],["RASIP1","5",94,234],["EPHA7","5",64,244],["BCL2","1245",412,164],
["SIX1","56",158,306],["FGFR2","56",182,305],["NOG","56",138,314],["SIX4","56",199,314],["HOXB7","56",159,326],["HHIP","56",183,328],
["TGFB3","256",382,272],["FMN1","12456",395,276],["COL16A1","12345",467,301],["LAMA5","12345",473,304],["MMP14","123456",420,322],["NOTCH1","35",381,353],["COL4A1","35",364,360],["SPINT1","5",399,357],["NTN4","5",392,370],["ENG","35",355,375],["SULF1","35",373,377],["SFRP2","356",320,395],
["MED12","6",57,350],["GNAS","6",40,372],["AXIN2","6",81,365],["ARID5B","6",111,393],["PPARGC1B","6",31,399],["COL20A1","6",67,400],["TBX15","6",33,427],["HOXC8","6",80,436],["BMPR2","6",132,422],["GSC","6",38,452],["TRIP11","6",135,458],["TWIST1","6",45,478],["MEGF8","6",87,473],["SP5","6",58,503],["WNT10B","6",149,492],["HOXB2","6",106,508],["TBX1","6",73,528],["P2RX7","6",166,527],["IFT80","6",93,550],["IFITM5","6",129,543],["MSX1","6",173,560],["FUZ","6",119,572],["HOXD8","6",145,586],["MATN2","6",194,583],["GLG1","6",170,600],["OSR2","6",200,605],
["COL12A1","36",353,465],["COMP","36",373,464],["COL6A1","36",376,482],["COL1A1","36",337,479],["CSGALNACT1","36",355,491],["MMP16","36",331,499],["HAS2","36",367,508],["TCF15","36",330,517],["ANXA9","36",355,524],["COL6A2","36",329,535],["MMP2","36",349,542],["BMP1","36",336,552],
["FBLN5","3",554.5,459],["ITGAV","3",596.5,460],["MFAP2","3",668,451],["NDNF","3",699,452],["MFAP5","3",635,457],["IL6","3",716,471],["TMPRSS6","3",685,476],["CTRB2","3",558,493],["LUM","3",606,495],["MMP28","3",649,493],["ITGB3","3",718,494],["LOX","3",686,510],["MYH11","3",716,517],["PTX3","3",485,512],["COL4A2","3",528,521],["COL5A2","3",628,533],["ITGA9","3",705,540],["TIMP2","3",581,533],["PHLDB1","3",670,539],["HAPLN1","3",691,561],["NF1","3",471,544],["DCN","3",516,559],["LOXL4","3",563,568],["FLRT2","3",646,568],["SULF2","3",675,581],["LOXL3","3",609,576],["CTSS","3",450,572],["COL18A1","3",491,587],["FGG","3",654,598],["MFAP4","3",420,593],["ADAMTSL2","3",547,602],["ADAM8","3",588,606],["MMP17","3",632,610],["CAPNS2","3",446,610],["POSTN","3",403,613],["PDGFB","3",611,625],["COL11A2","3",519,622],["ITGA1","3",480,622],["VWF","3",418,630],["ITGA7","3",557,640],["LCP1","3",442,639],["SPARC","3",582,635],["TNXB","3",500,648],["MMP19","3",469.5,647],["CAPN1","3",530.5,647],
["F2R","12",510,35],["CSK","2",565,26],["RASSF8","2",628,32],["FLCN","12",532,51],["PRKCI","12",595,49],["FLNC","12",639,60],["PRKACA","12",564,56],["MPP5","12",667,67],["MAPRE2","2",703,62],["SMAD7","12",607,75],["ARHGEF7","124",497,74],["CORO2B","124",474,81],["PEAK1","4",529,90],["PIP5K1C","12",684,94],["APC","12",716,95],["PPM1F","124",465,103],["APOD","14",499,110],["CDH13","12",643,98],["ARHGAP6","4",563,106],["TLN2","12",725,118],["CADM3","2",762,110],["TAOK2","124",467,127],["ACVRL1","4",529,133],["THY1","4",595,127],["PRKCH","12",673,130],["CNTNAP1","12",753,140],["AJUBA","124",486,147],["ACTN2","4",618,155],["WHAMM","124",563,153],["PKP2","12",710,148],["NUMBL","2",793,158],["CDH26","12",513,165],["LIMS2","12",754,166],["PTK2B","124",643,183],["PARD6A","12",698,181],["CDHR3","12",771,191],["CADM2","2",805,200],["PDCD6IP","12",735,201],["ANK2","12",772,224],["BCAS3","124",655,223],["MARVELD2","12",701,225],["RAPGEF2","12",742,241],["PTPN23","2",806,235],["PARD3","12",707,257],["PKP4","12",767,259],["ADD1","2",799,267],["MICALL2","12",735,276],["CDH8","12",760,283],
["ITGA2","1234",553,336],["PHLDB2","124",572,333],["CLASP2","124",562,345],["LRP1","34",592,337],["THBS1","134",580,347],["FSCN1","12",615,347],["ITGB4","123",628,351],["LAMC2","123",603,355],["TGFB1","123",637,360]
];
const nudgeE={EGF:[9,-7],"NKX2-1":[9,7],HGF:[11,8],SOX8:[9,-8],PML:[10,-7],SOCS3:[-2,8],GLI2:[11,8],KRAS:[10,-8],PROX1:[-10,-8],EDN1:[9,-8],GRB2:[8,-7],LEF1:[10,-8],KDM5B:[9,-8],HOXB13:[9,7],TGM2:[-10,8],GCM1:[-9,9],SALL1:[-9,8],EDNRA:[-9,8],BCL11A:[-8,7],FOXA1:[-21,-3],AR:[-11,8],SMO:[8,8],CLIC4:[9,8],WNT2:[-10,-8],RASIP1:[10,-7],EPHA7:[-10,9],BCL2:[-10,9],SIX1:[-9,-7],FGFR2:[9,-6],NOG:[-15,5],SIX4:[9,8],HOXB7:[-6,8],HHIP:[6,10],TGFB3:[-10,-8],FMN1:[9,9],COL16A1:[-10,-8],LAMA5:[10,9],MMP14:[9,-7],NOTCH1:[20,-8],COL4A1:[-10,-8],SPINT1:[20,6],NTN4:[9,8],ENG:[-15,-8],SULF1:[-9,8],SFRP2:[-9,7],MED12:[10,-8],GNAS:[-10,-7],AXIN2:[-9,8],ARID5B:[9,-8],PPARGC1B:[-7,-8],COL20A1:[19,8],TBX15:[9,-7],HOXC8:[2,-7],BMPR2:[-7,8],GSC:[9,-8],TRIP11:[8,-7],TWIST1:[-9,7],MEGF8:[-9,8],SP5:[-14,7],WNT10B:[-10,9],HOXB2:[-9,8],TBX1:[-17,-2],P2RX7:[-10,7],IFT80:[-10,-8],IFITM5:[-9,7],MSX1:[-9,7],FUZ:[-29,-6],HOXD8:[-22,-6],MATN2:[10,-7],GLG1:[-9,-7],OSR2:[10,8],COL12A1:[-6,-9],COMP:[18,-7],COL6A1:[7,-7],COL1A1:[-10,-7],CSGALNACT1:[3,-1],MMP16:[-9,8],HAS2:[9,8],TCF15:[-9,8],ANXA9:[10,8],COL6A2:[-9,8],MMP2:[15,9],BMP1:[-9,8],FBLN5:[-10,-7],ITGAV:[-10,-7],MFAP2:[-8,-7],NDNF:[9,8],MFAP5:[-10,8],IL6:[9,8],TMPRSS6:[-9,7],CTRB2:[8,-7],LUM:[-4,-7],MMP28:[-9,7],ITGB3:[9,8],LOX:[-9,-7],MYH11:[20,0],PTX3:[9,-7],COL4A2:[9,-7],COL5A2:[-9,-7],ITGA9:[9,-7],TIMP2:[-9,8],PHLDB1:[-11,8],HAPLN1:[15,-8],NF1:[-10,9],DCN:[-8,8],LOXL4:[-9,-7],FLRT2:[-19,-6],SULF2:[7,-7],LOXL3:[-20,7],CTSS:[-19,-6],COL18A1:[-23,-7],FGG:[8,-7],MFAP4:[-9,-7],ADAMTSL2:[-23,-7],ADAM8:[-13,-7],MMP17:[-6,-7],CAPNS2:[-9,-8],POSTN:[-14,-12],PDGFB:[10,-7],COL11A2:[9,-7],ITGA1:[-8,8],VWF:[-6,-8],ITGA7:[-11,-8],LCP1:[-7,-3],SPARC:[9,8],TNXB:[8,-7],MMP19:[-9,7],CAPN1:[9,9],F2R:[-9,-8],CSK:[-9,-8],RASSF8:[9,-7],FLCN:[-9,-7],PRKCI:[-9,-7],FLNC:[-9,-7],PRKACA:[9,8],MPP5:[-17,4],MAPRE2:[8,-7],SMAD7:[0,7],ARHGEF7:[9,-7],CORO2B:[-10,9],PEAK1:[-10,7],PIP5K1C:[-9,-7],APC:[15,-5],PPM1F:[-9,7],APOD:[8,7],CDH13:[-5,8],ARHGAP6:[27,6],TLN2:[10,-8],CADM3:[10,-8],TAOK2:[-10,8],ACVRL1:[18,-7],THY1:[-6,8],PRKCH:[-4,8],CNTNAP1:[9,-7],AJUBA:[8,7],ACTN2:[8,-7],WHAMM:[-9,7],PKP2:[-10,8],NUMBL:[-9,9],CDH26:[-10,8],LIMS2:[-13,8],PTK2B:[-9,8],PARD6A:[-9,8],CDHR3:[10,-7],CADM2:[18,7],PDCD6IP:[10,8],ANK2:[14,-7],BCAS3:[-18,-6],MARVELD2:[-14,-7],RAPGEF2:[9,-7],PTPN23:[9,8],PARD3:[-9,-7],PKP4:[-9,-8],ADD1:[9,9],MICALL2:[-9,-7],CDH8:[9,8],ITGA2:[-15,-7],PHLDB2:[8,-7],CLASP2:[-24,2],LRP1:[6,10],THBS1:[-13,15],FSCN1:[8,-17],ITGB4:[19,-5],LAMC2:[8,8],TGFB1:[14,8]};
const leadersE=["FUZ","POSTN","THBS1","FSCN1"];

/* ───────── drawing ───────── */
const svg=d3.select("#fig");
const F="Liberation Sans";
function txt(g,x,y,s,o={}){
  const t=g.append("text").attr("x",x).attr("y",y).attr("dy",o.dy||".35em").text(s)
    .attr("text-anchor",o.anchor||"middle").style("font-size",(o.size||10)+"px");
  if(o.bold)t.style("font-weight","700");
  if(o.fill)t.style("fill",o.fill);
  if(o.rot!==undefined)t.attr("transform",`rotate(${o.rot} ${x} ${y})`);
  if(o.len)t.attr("textLength",o.len).attr("lengthAdjust","spacingAndGlyphs");
  return t;
}
function panelLetter(s,x,y){svg.append("text").attr("x",x).attr("y",y).text(s).style("font-size","44px").style("font-weight","700").style("fill","#000");}
panelLetter("a",1,29);panelLetter("b",613,35);panelLetter("c",1332,32);panelLetter("d",13,763);panelLetter("e",902,768);

/* panel a */
(function(){
  const g=svg.append("g");
  const x=d3.scaleLinear().domain([-10,10]).range([72.7,478.4]);
  const y=d3.scaleLinear().domain([0,3]).range([587,94.7]);
  const L=38.3,R=558,T=31.6,B=613;
  const grid=g.append("g");
  volcanoGridMinorX.forEach(v=>grid.append("line").attr("x1",x(v)).attr("x2",x(v)).attr("y1",T).attr("y2",B).attr("stroke","#f4f4f4"));
  volcanoGridMinorY.forEach(v=>grid.append("line").attr("y1",y(v)).attr("y2",y(v)).attr("x1",L).attr("x2",R).attr("stroke","#f4f4f4"));
  volcanoXTicks.forEach(v=>grid.append("line").attr("x1",x(v)).attr("x2",x(v)).attr("y1",T).attr("y2",B).attr("stroke","#ebebeb"));
  volcanoYTicks.forEach(v=>grid.append("line").attr("y1",y(v)).attr("y2",y(v)).attr("x1",L).attr("x2",R).attr("stroke","#ebebeb"));
  const gray="#bdbdbd",blue="#3a5fcd",red="#ff3030";
  const mass=(levels,inner,outer,col,sign=1)=>{
    const a=d3.area().y(d=>y(d)).x0((d,i)=>x(sign*inner[i])).x1((d,i)=>x(sign*outer[i])).curve(d3.curveMonotoneY);
    g.append("path").attr("d",a(levels)).attr("fill",col);
  };
  mass(grayMassLevels,grayMassInner,grayMassOuter,gray,1);
  mass(grayMassLevels,grayMassInner,grayMassOuter,gray,-1);
  mass(blueMassLevels,blueMassInner,blueMassOuter,blue);
  mass(redMassLevels,redMassInner,redMassOuter,red);
  const pts=(rows,col,r)=>rows.forEach(([yy,xs])=>xs.forEach(v=>g.append("circle").attr("cx",x(v)).attr("cy",y(yy)).attr("r",r).attr("fill",col)));
  pts(grayRows,gray,1.8);pts(blueRows,blue,1.8);pts(redRows,red,1.8);
  // dashed thresholds
  [-fcCut,fcCut].forEach(v=>g.append("line").attr("x1",x(v)).attr("x2",x(v)).attr("y1",T).attr("y2",B).attr("stroke","#444").attr("stroke-width",1.4).attr("stroke-dasharray","5 3"));
  g.append("line").attr("y1",y(pCut)).attr("y2",y(pCut)).attr("x1",L).attr("x2",R).attr("stroke","#444").attr("stroke-width",1.4).attr("stroke-dasharray","5 3");
  labeledBlue.forEach(d=>g.append("circle").attr("cx",x(d[0])).attr("cy",y(d[1])).attr("r",3).attr("fill",blue));
  labeledRed.forEach(d=>g.append("circle").attr("cx",x(d[0])).attr("cy",y(d[1])).attr("r",3).attr("fill",red));
  volcanoConnect.forEach(([p,e])=>g.append("line").attr("x1",x(p[0])).attr("y1",y(p[1])).attr("x2",e[0]).attr("y2",e[1]).attr("stroke","#555").attr("stroke-width",.9));
  volcanoLabels.forEach((s,i)=>txt(g,volcanoLabelAt[i][0],volcanoLabelAt[i][1],s,{size:14.5}));
  g.append("rect").attr("x",L).attr("y",T).attr("width",R-L).attr("height",B-T).attr("fill","none").attr("stroke","#b5b5b5").attr("stroke-width",1.8);
  const ax=g.append("g").attr("transform",`translate(0,${B})`).call(d3.axisBottom(x).tickValues(volcanoXTicks).tickSize(3).tickPadding(5).tickFormat(d3.format("d")));
  const ay=g.append("g").attr("transform",`translate(${L},0)`).call(d3.axisLeft(y).tickValues(volcanoYTicks).tickSize(3).tickPadding(4).tickFormat(d3.format("d")));
  [ax,ay].forEach(a=>{a.select(".domain").remove();a.selectAll("line").attr("stroke","#777");a.selectAll("text").style("font-size","15.5px").style("font-family",F).style("fill","#222");});
  const xt=g.append("text").attr("x",279).attr("y",647).attr("text-anchor","middle").style("font-size","14px");
  xt.append("tspan").text("log");xt.append("tspan").text("2").attr("dy",3).style("font-size","9px");xt.append("tspan").text("FC").attr("dy",-3);
  const yt=g.append("text").attr("transform","translate(16,337) rotate(-90)").attr("text-anchor","middle").style("font-size","14px");
  yt.append("tspan").text("-log");yt.append("tspan").text("10").attr("dy",3).style("font-size","9px");yt.append("tspan").text("(p-value)").attr("dy",-3);
})();

/* circular gene-concept panels */
function geodesic(p,q,n){
  // arc orthogonal to the unit circle between two rim points
  const a1=Math.atan2(p[1],p[0]),a2=Math.atan2(q[1],q[0]);
  let dA=a2-a1;while(dA>Math.PI)dA-=2*Math.PI;while(dA<-Math.PI)dA+=2*Math.PI;
  if(Math.abs(Math.abs(dA)-Math.PI)<.03)return [p,q];
  const phi=a1+dA/2,h=Math.abs(dA)/2,d=1/Math.cos(h),r=Math.tan(h);
  const c=[d*Math.cos(phi),d*Math.sin(phi)];
  const s=Math.atan2(p[1]-c[1],p[0]-c[0]);let e=Math.atan2(q[1]-c[1],q[0]-c[0]);
  let dd=e-s;while(dd>Math.PI)dd-=2*Math.PI;while(dd<-Math.PI)dd+=2*Math.PI;
  return d3.range(n+1).map(i=>{const t=s+dd*i/n;return [c[0]+r*Math.cos(t),c[1]+r*Math.sin(t)];});
}
function leader(g,x,y,dx,dy,name,size){
  const hw=name.length*size*.32+1,hh=size*.55;
  const t=Math.min(hw/Math.max(Math.abs(dx),.01),hh/Math.max(Math.abs(dy),.01));
  if(t>=1)return;
  g.append("line").attr("x1",x).attr("y1",y).attr("x2",x+dx*(1-t)).attr("y2",y+dy*(1-t)).attr("stroke","#111").attr("stroke-width",.9);
}
const edgeColB={1:"#fb9490",2:"#57c06e",3:"#8db5fa"};
function circularPanel(c){
  const g=svg.append("g");
  const N=c.genes.length+3;
  const ang=d3.scaleLinear().domain([0,N]).range([-Math.PI/2,1.5*Math.PI]);
  const sx=d3.scaleLinear().domain([-1,1]).range([c.cx-c.rx,c.cx+c.rx]);
  const sy=d3.scaleLinear().domain([-1,1]).range([c.cy-c.ry,c.cy+c.ry]);
  const unit=i=>{const a=ang(i+.5);return [Math.cos(a),Math.sin(a)];};
  const line=d3.line().x(d=>sx(d[0])).y(d=>sy(d[1]));
  const edges=[];
  c.genes.forEach((d,i)=>{[...d[1]].forEach(k=>edges.push({k,hub:c.hubOf[k],gene:i+3}));});
  ["1","2","3"].forEach(k=>{
    const gg=g.append("g").attr("fill","none").attr("stroke",edgeColB[k]).attr("stroke-width",1.25).attr("stroke-opacity",.9);
    edges.filter(e=>e.k===k).forEach(e=>gg.append("path").attr("d",line(geodesic(unit(e.hub),unit(e.gene),40))));
  });
  // nodes
  c.genes.forEach((d,i)=>{
    const u=unit(i+3);const v=c.fold[d[0]]!==undefined?c.fold[d[0]]:c.foldDefault;
    g.append("circle").attr("cx",sx(u[0])).attr("cy",sy(u[1])).attr("r",3).attr("fill",c.foldScale(v));
  });
  [0,1,2].forEach(i=>{
    const u=unit(i);
    g.append("circle").attr("cx",sx(u[0])).attr("cy",sy(u[1])).attr("r",c.hubR[i]).attr("fill","#dfb880");
    g.append("line").attr("x1",sx(u[0])).attr("x2",sx(u[0])).attr("y1",27).attr("y2",sy(u[1])-c.hubR[i]).attr("stroke","#333");
    txt(g,sx(u[0]),17,String(i+1),{size:20,bold:true,fill:"#000"});
  });
  c.genes.forEach((d,i)=>{
    const u=unit(i+3),n=c.nudge[d[0]]||[0,0],x=sx(u[0]),y=sy(u[1]);
    if(c.leaders.includes(d[0]))leader(g,x,y,n[0],n[1],d[0],8);
    txt(g,x+n[0],y+n[1],d[0],{size:8.2,fill:"#222"});
  });
}
const foldScaleB=d3.scaleLinear().domain([0,3000]).range(["#0000ff","#ff0000"]);
const foldScaleC=d3.scaleLinear().domain([-1.5,-9.5]).range(["#0000ff","#00ff00"]);
circularPanel({genes:genesB,cx:924,cy:281.5,rx:296,ry:244.5,hubOf:{1:2,2:1,3:0},hubR:[8,6,6],fold:foldB,foldDefault:foldDefaultB,foldScale:foldScaleB,nudge:nudgeB,leaders:leadersB});
circularPanel({genes:genesC,cx:1605,cy:284,rx:296,ry:244,hubOf:{1:0,2:1,3:2},hubR:[8,7,6],fold:foldC,foldDefault:foldDefaultC,foldScale:foldScaleC,nudge:nudgeC,leaders:leadersC});

/* circular legends */
function circLegend(o){
  const g=svg.append("g");
  txt(g,o.foldTitle[0],o.foldTitle[1],"fold change",{size:12,len:56});
  txt(g,o.sizeTitle[0],o.sizeTitle[1],"size",{size:12});
  const id=o.id;
  const grad=svg.append("defs").append("linearGradient").attr("id",id).attr("x1",0).attr("x2",0).attr("y1",1).attr("y2",0);
  d3.range(0,1.001,.1).forEach(t=>grad.append("stop").attr("offset",t).attr("stop-color",o.scale(o.domain[0]+t*(o.domain[1]-o.domain[0]))));
  g.append("rect").attr("x",o.bar[0]).attr("y",o.bar[1]).attr("width",o.bar[2]).attr("height",o.bar[3]).attr("fill",`url(#${id})`);
  o.ticks.forEach(t=>{
    const yy=o.tickY(t);
    g.append("line").attr("x1",o.bar[0]).attr("x2",o.bar[0]+3).attr("y1",yy).attr("y2",yy).attr("stroke","#fff").attr("stroke-opacity",.6);
    g.append("line").attr("x1",o.bar[0]+o.bar[2]-3).attr("x2",o.bar[0]+o.bar[2]).attr("y1",yy).attr("y2",yy).attr("stroke","#fff").attr("stroke-opacity",.6);
    txt(g,o.tickX,yy,String(t),{size:9.5,anchor:"start"});
  });
  o.sizes.forEach((s,i)=>{
    g.append("circle").attr("cx",o.sizeX).attr("cy",o.sizeY[i]).attr("r",o.sizeR[i]).attr("fill","#000");
    txt(g,o.sizeLabelX,o.sizeY[i],String(s),{size:9.5,anchor:"start"});
  });
  txt(g,o.catX,o.catY,"category",{size:14.5,bold:true,anchor:"start",len:o.catLen});
  o.names.forEach((s,i)=>{
    g.append("line").attr("x1",o.lineX[0]).attr("x2",o.lineX[1]).attr("y1",o.rowY[i]).attr("y2",o.rowY[i]).attr("stroke",edgeColB[i+1]).attr("stroke-width",1.5);
    txt(g,o.numX,o.rowY[i],(i+1)+":",{size:15,bold:true,anchor:"start",fill:"#111"});
    txt(g,o.textX,o.rowY[i],s,{size:16.5,anchor:"start",len:o.lens[i],fill:"#111"});
  });
}
circLegend({id:"gb",foldTitle:[645.5,537],sizeTitle:[706,536],bar:[617,546,18,86],domain:[0,3100],scale:foldScaleB,ticks:foldTicksB,tickY:d3.scaleLinear().domain([1000,3000]).range([604,548]),tickX:640,sizes:sizeLegendB,sizeX:711,sizeY:[557,579,604,632],sizeR:[8.7,10,11,12],sizeLabelX:730,catX:777,catY:564,catLen:57,names:categoriesB,lineX:[770,789],rowY:[589,612,634],numX:795,textX:812,lens:[148,294,251.5]});
circLegend({id:"gc",foldTitle:[1342,538],sizeTitle:[1403,537],bar:[1313,548,18,89],domain:[-10,-1.5],scale:foldScaleC,ticks:foldTicksC,tickY:d3.scaleLinear().domain([-2,-8]).range([555,618]),tickX:1337,sizes:sizeLegendC,sizeX:1408,sizeY:[559,581,607,635],sizeR:[8.7,10,11,12],sizeLabelX:1429,catX:1485,catY:563,catLen:57,names:categoriesC,lineX:[1477,1494],rowY:[588,611,633],numX:1501,textX:1519,lens:[88,305,153.5]});

/* panel d */
(function(){
  const g=svg.append("g");
  const L=55,T=759,W=599.5,H=598;
  const color=d3.scaleLinear().domain(heatStopsValue).range(heatStopsColor).clamp(true);
  const nR=heatRowsD.length,nC=heatRowsD[0].length;
  const cv=document.createElement("canvas");cv.width=W|0;cv.height=H|0;
  const ctx=cv.getContext("2d"),im=ctx.createImageData(cv.width,cv.height);
  const sample=(fx,fy)=>{ // smooth reading of the value table at fractional cell coordinates
    fx=Math.max(0,Math.min(nC-1,fx));fy=Math.max(0,Math.min(nR-1,fy));
    const i=Math.floor(fx),j=Math.floor(fy),ii=Math.min(i+1,nC-1),jj=Math.min(j+1,nR-1),a=fx-i,b=fy-j;
    const sa=a*a*(3-2*a)*.5+a*.5,sb=b*b*(3-2*b)*.5+b*.5;
    return (heatRowsD[j][i]*(1-sa)+heatRowsD[j][ii]*sa)*(1-sb)+(heatRowsD[jj][i]*(1-sa)+heatRowsD[jj][ii]*sa)*sb;
  };
  for(let py=0;py<cv.height;py++)for(let px=0;px<cv.width;px++){
    const c=d3.rgb(color(sample(px/cv.width*nC-.5,py/cv.height*nR-.5)));
    const k=(py*cv.width+px)*4;im.data[k]=c.r;im.data[k+1]=c.g;im.data[k+2]=c.b;im.data[k+3]=255;
  }
  ctx.putImageData(im,0,0);
  g.append("image").attr("x",L).attr("y",T).attr("width",W).attr("height",H).attr("href",cv.toDataURL());
  g.append("line").attr("x1",341).attr("x2",341).attr("y1",T).attr("y2",T+H).attr("stroke","#fff").attr("stroke-width",2.4);
  g.append("line").attr("x1",L).attr("x2",L+W).attr("y1",1070.5).attr("y2",1070.5).attr("stroke","#fff").attr("stroke-width",2.4);
  txt(g,80,786,"C",{size:25,fill:"#fff",len:16});txt(g,634,788,"D",{size:25,fill:"#2a2a2a",len:16});
  txt(g,78.5,1334,"A",{size:25,fill:"#fff",len:16});txt(g,636,1334,"B",{size:25,fill:"#fff",len:15});
  txt(g,28,815,"U-CH11",{size:24,rot:-90,fill:"#111"});
  txt(g,28,1053,"matched",{size:23,rot:-90,bold:true,fill:"#111"});
  txt(g,28,1295,"U-CH11R",{size:24,rot:-90,fill:"#111"});
  txt(g,144,1383,"recurrent (n=3)",{size:23,len:167,fill:"#111"});
  txt(g,360,1383,"unmatched",{size:23,bold:true,len:134,fill:"#111"});
  txt(g,568,1383,"primary (n=3)",{size:23,len:151,fill:"#111"});
  // colour bar
  const cb=document.createElement("canvas");cb.width=1;cb.height=600;const cc=cb.getContext("2d");
  const yB=d3.scaleLinear().domain([-.75,31.8]).range([1358.5,759]);
  for(let i=0;i<600;i++){cc.fillStyle=color(yB.invert(759+i));cc.fillRect(0,i,1,1);}
  g.append("image").attr("x",684.6).attr("y",759).attr("width",61.4).attr("height",599.5).attr("preserveAspectRatio","none").attr("href",cb.toDataURL());
  const ab=g.append("g").attr("transform","translate(746,0)").call(d3.axisRight(yB).tickValues(heatTicks).tickSize(3).tickPadding(9).tickFormat(d3.format("d")));
  ab.select(".domain").remove();ab.selectAll("line").attr("stroke","#222");ab.selectAll("text").style("font-size","22px").style("font-family",F).style("fill","#111");
  const t=g.append("text").attr("transform","translate(815,1099) rotate(-90)").attr("text-anchor","middle").style("font-size","18px");
  t.append("tspan").text("- log");t.append("tspan").text("10").attr("dy",4).style("font-size","12px");t.append("tspan").text(" (p-value)").attr("dy",-4);
})();

/* panel e */
(function(){
  const g=svg.append("g");
  const sx=d3.scaleLinear().domain([0,1086]).range([860,1946]);
  const sy=d3.scaleLinear().domain([0,699]).range([700,1399]);
  const col={1:"#f9837c",2:"#c5ae52",3:"#4dbe5c",4:"#3cc2bc",5:"#7ea8fb",6:"#f26ae4"};
  const hub={};hubsE.forEach(h=>hub[h[0]]=h);
  ["1","2","3","4","5","6"].forEach(k=>{
    const gg=g.append("g").attr("stroke",col[k]).attr("stroke-width",1.25).attr("stroke-opacity",.9);
    graphE.forEach(d=>{if(d[1].includes(k))gg.append("line").attr("x1",sx(d[2])).attr("y1",sy(d[3])).attr("x2",sx(hub[k][1])).attr("y2",sy(hub[k][2]));});
  });
  graphE.forEach(d=>g.append("circle").attr("cx",sx(d[2])).attr("cy",sy(d[3])).attr("r",3).attr("fill","#a3a3a3"));
  graphE.forEach(d=>{
    const n=nudgeE[d[0]]||[0,0];
    if(leadersE.includes(d[0]))leader(g,sx(d[2]),sy(d[3]),n[0],n[1],d[0],10);
    txt(g,sx(d[2])+n[0],sy(d[3])+n[1],d[0],{size:10.2,fill:"#222"});
  });
  const hubSize={1:[8,23],2:[8,23],3:[8,20],4:[6.5,19],5:[8,20],6:[8.5,20]};
  hubsE.forEach(h=>{
    g.append("circle").attr("cx",sx(h[1])).attr("cy",sy(h[2])).attr("r",hubSize[h[0]][0]).attr("fill","#dfb880");
    txt(g,sx(h[1]),sy(h[2]),h[0],{size:hubSize[h[0]][1],bold:true,fill:"#000"});
  });
  // legend
  txt(g,1645.5,1220,"category",{size:15,bold:true,anchor:"start",len:67});
  const rows=[1252,1272.7,1292.7,1313,1333,1353.7],lens=[162,182,250,184,262,230];
  categoriesE.forEach((s,i)=>{
    g.append("line").attr("x1",1640).attr("x2",1655).attr("y1",rows[i]).attr("y2",rows[i]).attr("stroke",col[i+1]).attr("stroke-width",1.5);
    txt(g,1663,rows[i],(i+1)+":",{size:15.5,bold:true,anchor:"start",fill:"#111"});
    txt(g,1682,rows[i],s,{size:16.5,anchor:"start",len:lens[i],fill:"#111"});
  });
})();
</script>
</body></html>
